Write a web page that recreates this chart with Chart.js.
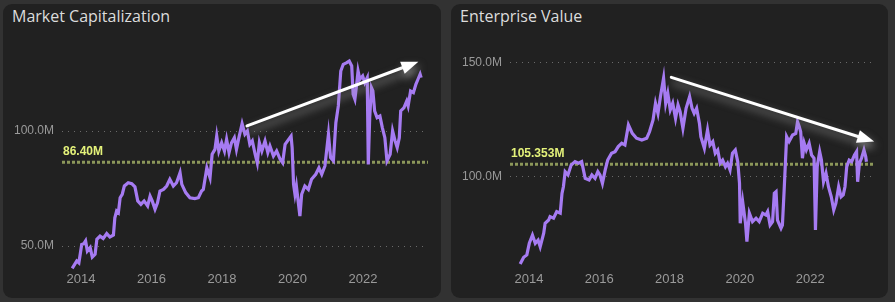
<!DOCTYPE html>
<html>
<head>
<meta charset="utf-8">
<script src="https://cdn.jsdelivr.net/npm/chart.js@4.4.0/dist/chart.umd.min.js"></script>
<style>
  html, body { margin: 0; padding: 0; width: 895px; height: 302px; background: #323232; overflow: hidden; }
  .panel { position: absolute; top: 4px; height: 294px; background: #212121; border-radius: 9px; }
  .panel h2 { position: absolute; left: 9px; top: 2px; margin: 0; font: 400 16px/21px "Open Sans", sans-serif; color: #dcdcdc; }
  .panel canvas { position: absolute; left: 0; top: 0; }
</style>
</head>
<body>
<div class="panel" style="left:3px;width:438px">
  <h2>Market Capitalization</h2>
  <canvas id="mcChart" width="438" height="294"></canvas>
</div>
<div class="panel" style="left:451px;width:437px">
  <h2>Enterprise Value</h2>
  <canvas id="evChart" width="437" height="294"></canvas>
</div>
<script>
// tick values shared by both panels
const xTicks = [2014, 2016, 2018, 2020, 2022];

// Market capitalization (millions)
const mcYears = [
  2013.75, 2013.82, 2013.88, 2013.94, 2014.02, 2014.08, 2014.13, 2014.18, 2014.26, 2014.32,
  2014.40, 2014.45, 2014.54, 2014.63, 2014.73, 2014.82, 2014.92, 2014.96, 2015.01, 2015.06,
  2015.11, 2015.17, 2015.23, 2015.34, 2015.44, 2015.53, 2015.61, 2015.70, 2015.79, 2015.89,
  2015.96, 2016.02, 2016.10, 2016.17, 2016.24, 2016.34, 2016.43, 2016.52, 2016.62, 2016.71,
  2016.81, 2016.86, 2016.97, 2017.09, 2017.23, 2017.33, 2017.42, 2017.47, 2017.57, 2017.66,
  2017.72, 2017.80, 2017.85, 2017.91, 2017.99, 2018.07, 2018.13, 2018.20, 2018.27, 2018.35,
  2018.41, 2018.48, 2018.57, 2018.65, 2018.72, 2018.79, 2018.86, 2018.94, 2019.00, 2019.06,
  2019.13, 2019.22, 2019.30, 2019.36, 2019.46, 2019.55, 2019.65, 2019.72, 2019.79, 2019.86,
  2019.96, 2019.99, 2020.03, 2020.07, 2020.11, 2020.21, 2020.26, 2020.35, 2020.45, 2020.54,
  2020.66, 2020.75, 2020.83, 2020.92, 2021.02, 2021.08, 2021.16, 2021.23, 2021.30, 2021.37,
  2021.44, 2021.54, 2021.61, 2021.68, 2021.72, 2021.77, 2021.82, 2021.86, 2021.91, 2021.99,
  2022.05, 2022.12, 2022.15, 2022.19, 2022.24, 2022.28, 2022.33, 2022.40, 2022.48, 2022.55,
  2022.62, 2022.68, 2022.77, 2022.84, 2022.91, 2022.97, 2023.03, 2023.07, 2023.16, 2023.24,
  2023.28, 2023.35, 2023.43, 2023.50, 2023.56, 2023.62, 2023.65
];
const mcValues = [
  40.3, 42.0, 43.5, 42.7, 50.7, 51.0, 52.2, 47.8, 49.3, 45.2,
  46.4, 52.9, 54.3, 53.3, 55.4, 53.9, 54.8, 62.3, 65.2, 64.5,
  71.0, 72.5, 76.1, 77.5, 77.1, 75.7, 69.6, 68.1, 69.6, 67.4,
  71.7, 69.6, 66.0, 68.8, 73.9, 74.6, 76.1, 79.0, 76.1, 77.5,
  81.9, 76.8, 73.2, 71.0, 70.6, 71.0, 73.9, 74.6, 84.0, 79.7,
  89.9, 92.0, 97.8, 91.3, 94.9, 91.3, 96.4, 90.6, 94.9, 97.1,
  92.0, 97.1, 103.2, 98.6, 100.0, 94.2, 95.7, 89.9, 86.2, 94.9,
  91.3, 95.7, 90.6, 93.5, 89.1, 91.3, 87.7, 86.2, 94.2, 95.7,
  97.8, 92.8, 76.8, 72.5, 76.1, 63.0, 72.5, 76.1, 74.6, 79.0,
  81.2, 84.0, 81.2, 84.8, 98.6, 88.4, 87.0, 103.6, 110.9, 126.1,
  129.0, 129.7, 130.4, 128.3, 116.0, 113.8, 120.3, 126.1, 122.5, 123.9,
  121.0, 123.2, 85.5, 105.8, 118.8, 117.4, 108.7, 105.8, 106.5, 101.4,
  97.1, 87.0, 89.9, 100.0, 95.7, 92.8, 97.1, 108.7, 110.1, 113.0,
  110.9, 117.4, 116.7, 120.3, 122.5, 124.7, 123.2
];
const mcYTicks = [50, 100];
const mcAverage = 86.40;
const mcTrend = [[2018.71, 102.2], [2023.57, 130.1]];

// Enterprise value (millions)
const evYears = [
  2013.75, 2013.85, 2013.94, 2014.01, 2014.10, 2014.18, 2014.26, 2014.32, 2014.42, 2014.46,
  2014.56, 2014.60, 2014.70, 2014.79, 2014.89, 2014.94, 2014.98, 2015.03, 2015.11, 2015.20,
  2015.31, 2015.41, 2015.50, 2015.60, 2015.71, 2015.79, 2015.88, 2015.96, 2016.02, 2016.09,
  2016.17, 2016.24, 2016.35, 2016.45, 2016.54, 2016.64, 2016.73, 2016.83, 2016.94, 2017.06,
  2017.21, 2017.35, 2017.43, 2017.53, 2017.60, 2017.67, 2017.74, 2017.83, 2017.89, 2017.95,
  2018.02, 2018.09, 2018.17, 2018.24, 2018.30, 2018.38, 2018.47, 2018.57, 2018.64, 2018.70,
  2018.77, 2018.85, 2018.89, 2018.99, 2019.08, 2019.15, 2019.23, 2019.30, 2019.37, 2019.44,
  2019.51, 2019.59, 2019.65, 2019.72, 2019.79, 2019.87, 2019.94, 2019.99, 2020.01, 2020.08,
  2020.16, 2020.20, 2020.27, 2020.36, 2020.46, 2020.55, 2020.65, 2020.74, 2020.79, 2020.86,
  2020.93, 2020.98, 2021.03, 2021.07, 2021.17, 2021.21, 2021.26, 2021.33, 2021.40, 2021.50,
  2021.59, 2021.64, 2021.69, 2021.73, 2021.78, 2021.83, 2021.89, 2021.97, 2022.04, 2022.11,
  2022.15, 2022.20, 2022.27, 2022.32, 2022.38, 2022.45, 2022.52, 2022.60, 2022.67, 2022.73,
  2022.81, 2022.88, 2022.94, 2022.99, 2023.04, 2023.11, 2023.18, 2023.26, 2023.32, 2023.35,
  2023.40, 2023.46, 2023.53, 2023.58, 2023.60
];
const evValues = [
  61.6, 64.6, 65.6, 70.7, 74.3, 70.7, 72.1, 69.2, 75.1, 79.5,
  80.9, 82.4, 81.7, 84.6, 83.9, 92.6, 95.5, 102.1, 100.7, 105.0,
  106.5, 105.8, 106.5, 99.2, 98.5, 100.7, 99.2, 102.1, 100.7, 97.0,
  102.9, 107.2, 110.2, 110.9, 113.1, 114.6, 113.8, 122.6, 118.9, 116.8,
  116.0, 116.8, 119.6, 124.8, 132.1, 127.7, 135.0, 143.1, 132.1, 136.5,
  129.2, 132.1, 125.5, 131.4, 128.4, 121.1, 129.9, 135.0, 129.9, 127.7,
  129.9, 123.3, 117.5, 112.4, 120.4, 113.8, 115.3, 110.2, 111.6, 105.8,
  107.2, 104.3, 105.8, 102.9, 110.2, 111.6, 106.5, 97.0, 79.5, 88.9,
  79.5, 71.4, 83.9, 80.2, 81.7, 80.2, 83.9, 83.1, 84.6, 78.7,
  80.2, 92.6, 93.3, 80.9, 77.3, 78.7, 94.1, 117.5, 115.3, 118.2,
  118.9, 124.0, 121.8, 119.6, 108.0, 114.6, 111.6, 114.6, 109.4, 108.0,
  76.5, 104.3, 110.9, 107.2, 97.7, 101.4, 95.5, 91.1, 85.3, 88.2,
  95.5, 91.1, 91.9, 95.5, 104.3, 107.2, 106.5, 109.4, 110.9, 97.7,
  105.8, 108.0, 111.6, 108.7, 106.5
];
const evYTicks = [100, 150];
const evAverage = 105.353;
const evTrend = [[2018.05, 143.5], [2023.82, 115.3]];

const X_MIN = 2013.461, X_MAX = 2023.844;

// white trend arrow with a soft shadow
const trendArrow = {
  id: 'trendArrow',
  afterDatasetsDraw(chart) {
    const pts = chart.options.plugins.trendArrow.points;
    const { ctx, scales: { x, y } } = chart;
    const x1 = x.getPixelForValue(pts[0][0]), y1 = y.getPixelForValue(pts[0][1]);
    const x2 = x.getPixelForValue(pts[1][0]), y2 = y.getPixelForValue(pts[1][1]);
    const a = Math.atan2(y2 - y1, x2 - x1);
    const head = 17, half = 6.5;
    const bx = x2 - head * Math.cos(a), by = y2 - head * Math.sin(a);
    ctx.save();
    ctx.shadowColor = 'rgba(170,170,170,0.75)';
    ctx.shadowBlur = 8;
    ctx.shadowOffsetX = 2;
    ctx.shadowOffsetY = 5;
    ctx.strokeStyle = '#ffffff';
    ctx.fillStyle = '#ffffff';
    ctx.lineWidth = 3;
    ctx.lineCap = 'round';
    ctx.beginPath();
    ctx.moveTo(x1, y1);
    ctx.lineTo(bx, by);
    ctx.stroke();
    ctx.beginPath();
    ctx.moveTo(x2, y2);
    ctx.lineTo(bx + half * Math.sin(a), by - half * Math.cos(a));
    ctx.lineTo(bx - half * Math.sin(a), by + half * Math.cos(a));
    ctx.closePath();
    ctx.fill();
    ctx.restore();
  }
};

// label sitting above the average line
const avgLabel = {
  id: 'avgLabel',
  afterDatasetsDraw(chart) {
    const o = chart.options.plugins.avgLabel;
    const { ctx, chartArea, scales: { y } } = chart;
    ctx.save();
    ctx.font = 'bold 12px "Liberation Sans", Arial, sans-serif';
    ctx.fillStyle = '#e4f27a';
    ctx.textBaseline = 'middle';
    ctx.fillText(o.text, chartArea.left + 1, y.getPixelForValue(o.value) - 10.6);
    ctx.restore();
  }
};

function makeChart(id, years, values, average, avgText, yTicks, yMin, yMax, trend) {
  const points = years.map((yr, i) => ({ x: yr, y: values[i] }));
  new Chart(document.getElementById(id), {
    type: 'line',
    data: {
      datasets: [{
        data: points,
        borderColor: '#a67bf2',
        borderWidth: 3.2,
        pointRadius: 0,
        tension: 0,
        order: 0
      }, {
        data: [{ x: X_MIN, y: average }, { x: X_MAX, y: average }],
        borderColor: '#8c975a',
        borderWidth: 3,
        borderDash: [3, 2],
        pointRadius: 0,
        order: 1
      }]
    },
    options: {
      responsive: false,
      animation: false,
      layout: { padding: { top: 46, right: 13, left: 0, bottom: 0 } },
      plugins: {
        legend: { display: false },
        tooltip: { enabled: false },
        trendArrow: { points: trend },
        avgLabel: { value: average, text: avgText }
      },
      scales: {
        x: {
          type: 'linear',
          min: X_MIN,
          max: X_MAX,
          afterFit: (s) => { s.height = 26; },
          afterBuildTicks: (s) => { s.ticks = xTicks.map(v => ({ value: v })); },
          grid: { display: false, drawTicks: false },
          border: { display: false },
          ticks: {
            autoSkip: false,
            maxRotation: 0,
            padding: 0,
            color: '#9a9a9a',
            font: { family: '"Liberation Sans", Arial, sans-serif', size: 13 },
            callback: (v) => String(v)
          }
        },
        y: {
          min: yMin,
          max: yMax,
          afterFit: (s) => { s.width = 59; },
          afterBuildTicks: (s) => { s.ticks = yTicks.map(v => ({ value: v })); },
          grid: { color: '#6a6a6a', lineWidth: 1, drawTicks: false },
          border: { display: false, dash: [1, 5] },
          ticks: {
            padding: 8,
            color: '#9a9a9a',
            font: { family: '"Liberation Sans", Arial, sans-serif', size: 12 },
            callback: (v) => v.toFixed(1) + 'M'
          }
        }
      }
    },
    plugins: [trendArrow, avgLabel]
  });
}

makeChart('mcChart', mcYears, mcValues, mcAverage, mcAverage.toFixed(2) + 'M', mcYTicks, 38.70, 135.22, mcTrend);
makeChart('evChart', evYears, evValues, evAverage, evAverage.toFixed(3) + 'M', evYTicks, 58.11, 155.48, evTrend);
</script>
</body>
</html>
